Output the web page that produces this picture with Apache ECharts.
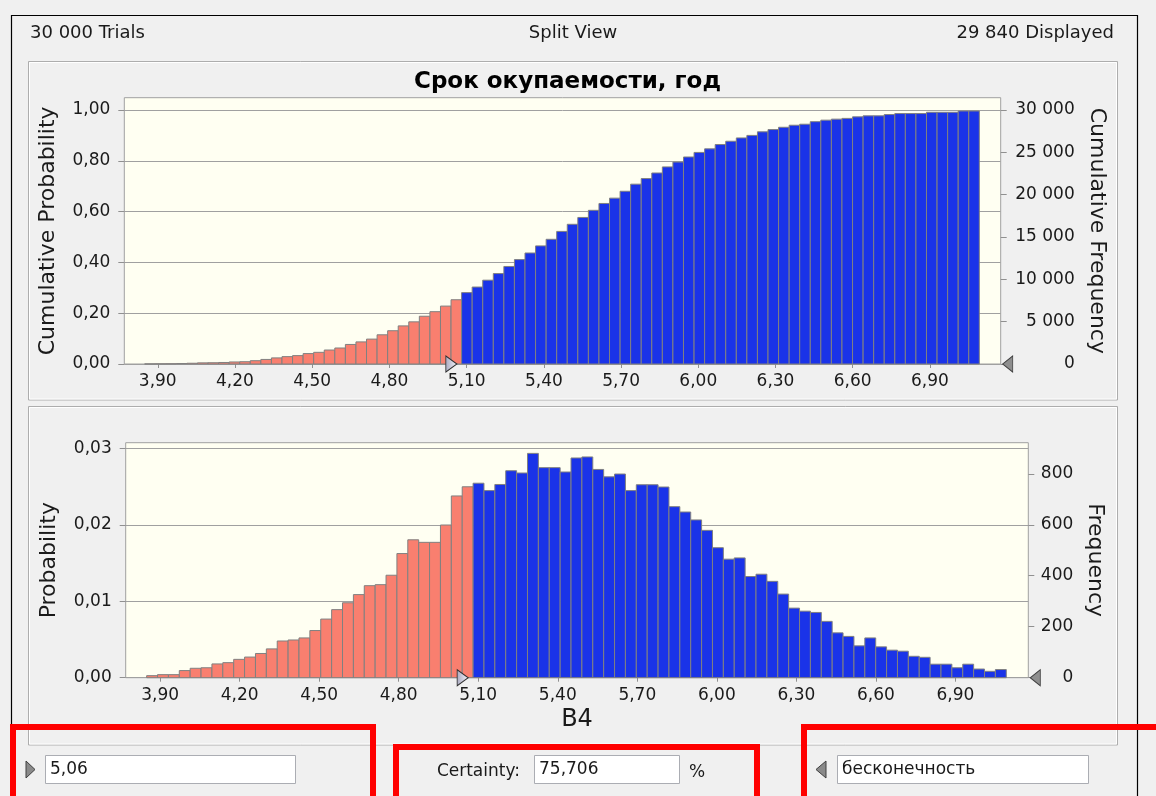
<!DOCTYPE html>
<html>
<head>
<meta charset="utf-8">
<script src="https://cdn.jsdelivr.net/npm/echarts@6/dist/echarts.min.js"></script>
<style>
html,body{margin:0;padding:0;background:#F0F0F0;}
#c{width:1156px;height:796px;}
</style>
</head>
<body>
<div id="c"></div>
<script>
// ---- data ----
const TITLE = 'Срок окупаемости, год';
const TRIALS_TEXT = '30 000 Trials';
const VIEW_TEXT = 'Split View';
const DISPLAYED_TEXT = '29 840 Displayed';
const X_NAME = 'B4';
const BIN_START = 3.849;
const BIN_WIDTH = 0.04105;
const X_MIN = 3.77;
const X_MAX = 7.175;
const CERTAINTY_LOW = 5.06;
const LOW_TEXT = '5,06';
const CERTAINTY_TEXT = '75,706';
const HIGH_TEXT = 'бесконечность';
const xTicks = [3.9, 4.2, 4.5, 4.8, 5.1, 5.4, 5.7, 6.0, 6.3, 6.6, 6.9];
const cumProbTicks = [0, 0.2, 0.4, 0.6, 0.8, 1.0];
const cumFreqTicks = [0, 5000, 10000, 15000, 20000, 25000, 30000];
const probTicks = [0, 0.01, 0.02, 0.03];
const freqTicks = [0, 200, 400, 600, 800];
const TRIALS = 30000;

// cumulative probability per bin (top chart)
const cumulativeProbability = [
  0.0003, 0.0007, 0.001, 0.002, 0.003, 0.0045, 0.005, 0.006, 0.008, 0.009,
  0.013, 0.018, 0.024, 0.029, 0.033, 0.041, 0.046, 0.055, 0.063, 0.077,
  0.087, 0.098, 0.115, 0.131, 0.150, 0.166, 0.188, 0.206, 0.228, 0.253,
  0.281, 0.303, 0.330, 0.356, 0.384, 0.411, 0.437, 0.465, 0.491, 0.522,
  0.550, 0.577, 0.605, 0.632, 0.653, 0.680, 0.708, 0.730, 0.752, 0.776,
  0.795, 0.815, 0.833, 0.847, 0.864, 0.877, 0.890, 0.900, 0.914, 0.923,
  0.932, 0.940, 0.944, 0.954, 0.960, 0.964, 0.967, 0.973, 0.977, 0.977,
  0.982, 0.986, 0.986, 0.986, 0.991, 0.991, 0.991, 0.996, 0.996
];
// frequency per bin (bottom chart)
const frequency = [
  8, 12, 12, 28, 37, 39, 54, 59, 72, 81,
  95, 113, 144, 148, 156, 185, 230, 267, 294, 326,
  361, 365, 402, 487, 541, 531, 531, 599, 713, 749,
  763, 734, 758, 812, 803, 880, 824, 824, 807, 862,
  866, 817, 788, 799, 734, 757, 757, 748, 671, 650,
  619, 578, 510, 465, 470, 397, 406, 378, 328, 273,
  261, 256, 221, 176, 162, 125, 156, 121, 108, 104,
  84, 80, 53, 53, 39, 53, 34, 25, 32
];

// ---- style ----
const FONT = 'DejaVu Sans';
const RED = '#F97F6F';
const BLUE = '#1A33E8';
const EDGE = '#808080';
const PLOT_BG = '#FFFFF2';
const GRIDLINE = '#A0A0A0';
const TEXT = '#1A1A1A';

function binData(values) {
  return values.map((v, i) => [BIN_START + i * BIN_WIDTH, BIN_START + (i + 1) * BIN_WIDTH, v]);
}
function renderBar(params, api) {
  const x0 = api.value(0), x1 = api.value(1), v = api.value(2);
  const p0 = api.coord([x0, v]);
  const p1 = api.coord([x1, 0]);
  return {
    type: 'rect',
    shape: {x: p0[0], y: p0[1], width: p1[0] - p0[0], height: p1[1] - p0[1]},
    style: {fill: x0 < CERTAINTY_LOW ? RED : BLUE, stroke: EDGE, lineWidth: 1}
  };
}
const comma = (d) => (v) => v.toFixed(d).replace('.', ',');
const spaced = (v) => String(Math.round(v)).replace(/\B(?=(\d{3})+(?!\d))/g, ' ');

function xAxis(gridIndex, name) {
  return {
    type: 'value', gridIndex, min: X_MIN, max: X_MAX,
    name: name || '', nameLocation: 'middle', nameGap: 30,
    nameTextStyle: {fontFamily: FONT, fontSize: 24, color: TEXT},
    axisLine: {show: false},
    axisTick: {show: true, customValues: xTicks, length: 4, lineStyle: {color: '#909090'}},
    axisLabel: {customValues: xTicks, formatter: comma(2), fontFamily: FONT, fontSize: 17, color: TEXT, margin: 9},
    splitLine: {show: false}
  };
}
function yAxis(gridIndex, pos, max, interval, ticks, fmt, name, gap, rot, margin) {
  return {
    type: 'value', gridIndex, position: pos, min: 0, max, interval,
    name, nameLocation: 'middle', nameGap: gap, nameRotate: rot,
    nameTextStyle: {fontFamily: FONT, fontSize: 22, color: TEXT},
    axisLine: {show: false},
    axisTick: {show: true, customValues: ticks, length: 6, lineStyle: {color: '#909090'}},
    axisLabel: {customValues: ticks, formatter: fmt, fontFamily: FONT, fontSize: 17, color: TEXT,
      margin, align: 'right'},
    splitLine: {show: pos === 'left', lineStyle: {color: GRIDLINE, width: 1}}
  };
}

const TOP_MAX = 1.0484;
const BOT_MAX = 0.03073;

const markerLight = {
  type: 'linear', x: 0, y: 0, x2: 0, y2: 1,
  colorStops: [{offset: 0, color: '#F4F4FA'}, {offset: 1, color: '#A8A8C0'}]
};
function markers(xi, yi) {
  return [{
    type: 'scatter', xAxisIndex: xi, yAxisIndex: yi, data: [[CERTAINTY_LOW, 0]],
    symbol: 'triangle', symbolSize: [16, 11], symbolRotate: -90, symbolOffset: [-5, 0],
    itemStyle: {color: markerLight, borderColor: '#303030', borderWidth: 1, opacity: 1},
    clip: false, silent: true, z: 10
  }, {
    type: 'scatter', xAxisIndex: xi, yAxisIndex: yi, data: [[X_MAX, 0]],
    symbol: 'triangle', symbolSize: [16, 10], symbolRotate: 90, symbolOffset: [7, 0],
    itemStyle: {color: '#8E8E8E', borderColor: '#404040', borderWidth: 1, opacity: 1},
    clip: false, silent: true, z: 10
  }];
}

const gTextStyle = (o) => Object.assign({fontFamily: FONT, fill: TEXT}, o);

const graphics = [
  // outer frame
  {type: 'polyline', shape: {points: [[11.5, 796], [11.5, 15.5], [1137.5, 15.5], [1137.5, 796]]}, style: {stroke: '#000', lineWidth: 1.2, fill: null}, silent: true},
  // panels
  {type: 'rect', shape: {x: 28.5, y: 61.5, width: 1089, height: 338.5}, style: {fill: null, stroke: '#ADADAD', lineWidth: 1}, silent: true},
  {type: 'rect', shape: {x: 29.5, y: 62.5, width: 1087, height: 336.5}, style: {fill: null, stroke: '#FFFFFF', lineWidth: 1}, silent: true},
  {type: 'rect', shape: {x: 28.5, y: 406.5, width: 1089, height: 338.5}, style: {fill: null, stroke: '#ADADAD', lineWidth: 1}, silent: true},
  {type: 'rect', shape: {x: 29.5, y: 407.5, width: 1087, height: 336.5}, style: {fill: null, stroke: '#FFFFFF', lineWidth: 1}, silent: true},
  // header
  {type: 'text', x: 30, y: 33, style: gTextStyle({text: TRIALS_TEXT, fontSize: 18, verticalAlign: 'middle', align: 'left'})},
  {type: 'text', x: 573, y: 33, style: gTextStyle({text: VIEW_TEXT, fontSize: 18, verticalAlign: 'middle', align: 'center'})},
  {type: 'text', x: 1114, y: 33, style: gTextStyle({text: DISPLAYED_TEXT, fontSize: 18, verticalAlign: 'middle', align: 'right'})},
  // bottom controls
  {type: 'polygon', shape: {points: [[26, 761], [35, 769.5], [26, 778]]}, style: {fill: '#8A8A8A', stroke: '#404040', lineWidth: 1}, silent: true},
  {type: 'rect', shape: {x: 45.5, y: 755.5, width: 250, height: 28}, style: {fill: '#FFFFFF', stroke: '#ABADB3', lineWidth: 1}, silent: true},
  {type: 'text', x: 50, y: 770, style: gTextStyle({text: LOW_TEXT, fontSize: 17, verticalAlign: 'middle'})},
  {type: 'text', x: 520, y: 772, style: gTextStyle({text: 'Certainty:', fontSize: 17, verticalAlign: 'middle', align: 'right'})},
  {type: 'rect', shape: {x: 534.5, y: 755.5, width: 145, height: 28}, style: {fill: '#FFFFFF', stroke: '#ABADB3', lineWidth: 1}, silent: true},
  {type: 'text', x: 539, y: 770, style: gTextStyle({text: CERTAINTY_TEXT, fontSize: 17, verticalAlign: 'middle'})},
  {type: 'text', x: 689, y: 773, style: gTextStyle({text: '%', fontSize: 17, verticalAlign: 'middle'})},
  {type: 'polygon', shape: {points: [[826, 761], [816, 769.5], [826, 778]]}, style: {fill: '#8A8A8A', stroke: '#404040', lineWidth: 1}, silent: true},
  {type: 'rect', shape: {x: 837.5, y: 755.5, width: 251, height: 28}, style: {fill: '#FFFFFF', stroke: '#ABADB3', lineWidth: 1}, silent: true},
  {type: 'text', x: 842, y: 770, style: gTextStyle({text: HIGH_TEXT, fontSize: 17, verticalAlign: 'middle'})},
  // red highlight boxes
  {type: 'polyline', shape: {points: [[13, 800], [13, 727], [373, 727], [373, 800]]}, style: {stroke: '#FF0000', lineWidth: 6, fill: null}, silent: true, z: 100},
  {type: 'polyline', shape: {points: [[396, 800], [396, 747], [757, 747], [757, 800]]}, style: {stroke: '#FF0000', lineWidth: 6, fill: null}, silent: true, z: 100},
  {type: 'polyline', shape: {points: [[804, 800], [804, 727], [1160, 727]]}, style: {stroke: '#FF0000', lineWidth: 6, fill: null}, silent: true, z: 100}
];

const option = {
  animation: false,
  backgroundColor: '#F0F0F0',
  title: {
    text: TITLE, left: 562.5, top: 66, textAlign: 'center',
    textStyle: {fontFamily: FONT, fontSize: 23, fontWeight: 'bold', color: '#000'}
  },
  grid: [
    {left: 124.3, top: 97.7, width: 876.4, height: 266.3, show: true, backgroundColor: PLOT_BG, borderColor: GRIDLINE, borderWidth: 1},
    {left: 125.7, top: 442.7, width: 902.6, height: 235, show: true, backgroundColor: PLOT_BG, borderColor: GRIDLINE, borderWidth: 1}
  ],
  xAxis: [xAxis(0), xAxis(1, X_NAME)],
  yAxis: [
    yAxis(0, 'left', TOP_MAX, 0.2, cumProbTicks, comma(2), 'Cumulative Probability', 65, 90, 14),
    yAxis(0, 'right', TOP_MAX * TRIALS, 5000, cumFreqTicks, spaced, 'Cumulative Frequency', 84, -90, 74),
    yAxis(1, 'left', BOT_MAX, 0.01, probTicks, comma(2), 'Probability', 65, 90, 14),
    yAxis(1, 'right', BOT_MAX * TRIALS, 200, freqTicks, spaced, 'Frequency', 55, -90, 45)
  ],
  series: [
    {type: 'custom', xAxisIndex: 0, yAxisIndex: 0, renderItem: renderBar, data: binData(cumulativeProbability), encode: {x: [0, 1], y: 2}, silent: true},
    {type: 'custom', xAxisIndex: 1, yAxisIndex: 3, renderItem: renderBar, data: binData(frequency), encode: {x: [0, 1], y: 2}, silent: true},
    ...markers(0, 0),
    ...markers(1, 2)
  ],
  graphic: graphics
};
const chart = echarts.init(document.getElementById('c'), null, {renderer: 'canvas'});
chart.setOption(option);
</script>
</body>
</html>
